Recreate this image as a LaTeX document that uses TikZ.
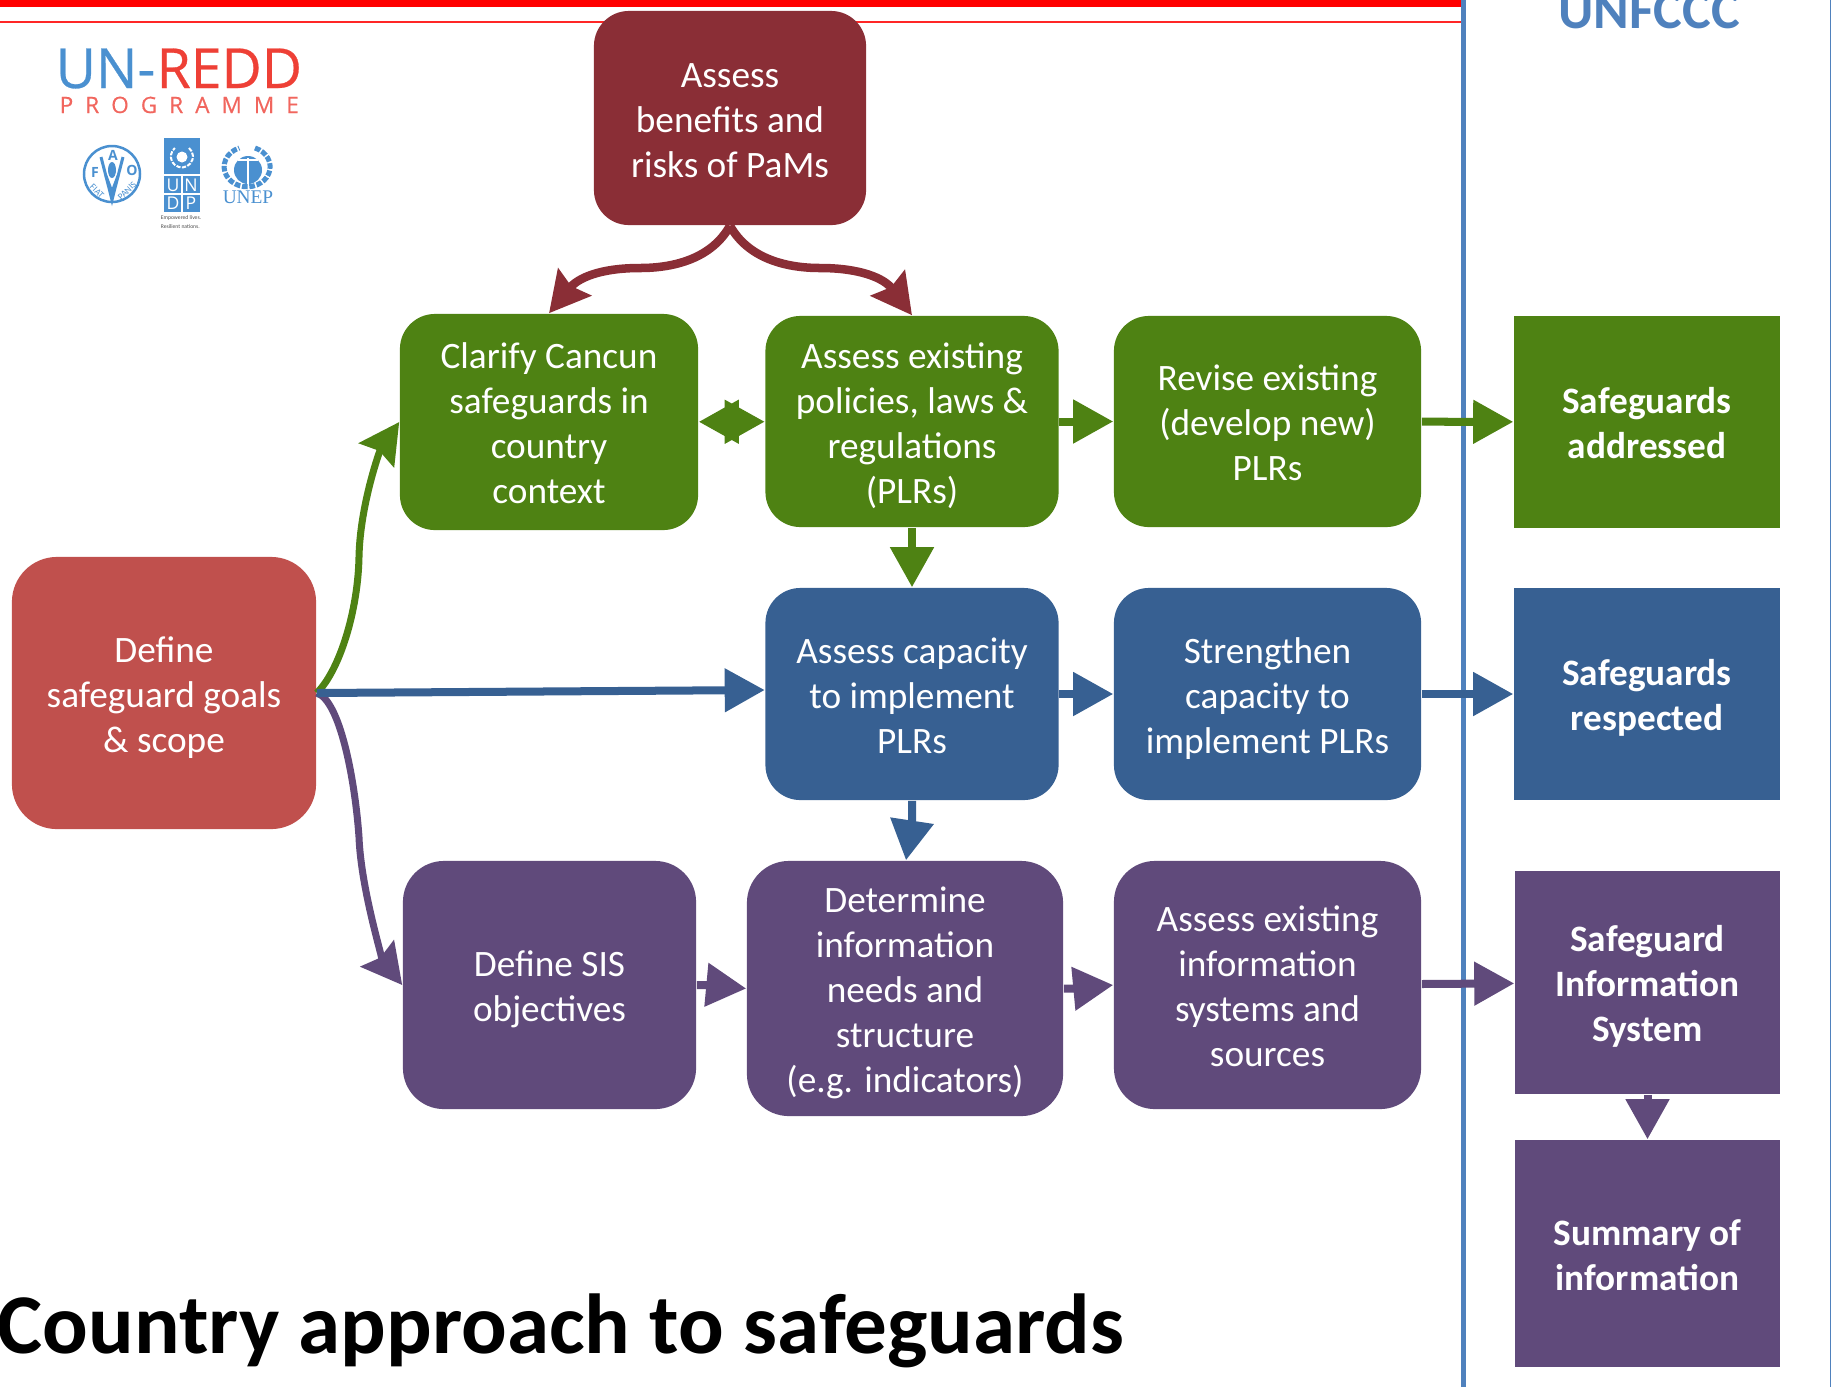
\documentclass[tikz,border=0pt]{standalone}
\usepackage{fontspec}
\setmainfont{Carlito}
\newfontfamily\logofont{Open Sans}
\newfontfamily\reddfont[FakeBold=0.5]{Open Sans}
\newfontfamily\unepfont{Liberation Serif}
\usetikzlibrary{arrows.meta}
\definecolor{maroonbox}{HTML}{8A2E36}
\definecolor{greenbox}{HTML}{4E8213}
\definecolor{bluebox}{HTML}{376092}
\definecolor{purplebox}{HTML}{604A7B}
\definecolor{redbox}{HTML}{C0504D}
\definecolor{unblue}{HTML}{4F81BD}
\definecolor{logoblue}{HTML}{4A90D0}
\definecolor{logored}{HTML}{EE4036}
\newcommand{\topline}{\rule{0pt}{12pt}}
\tikzset{
  stepbox/.style={rectangle, rounded corners=.35cm, inner sep=0pt, align=center, text=white, font=\fontsize{10.6}{12.8}\selectfont, fill=#1, execute at end node={\rule[-4pt]{0pt}{4pt}}},
  endbox/.style={rectangle, inner sep=0pt, align=center, text=white, font=\fontsize{10.6}{12.8}\selectfont\bfseries, fill=#1, execute at end node={\rule[-4pt]{0pt}{4pt}}},
  flow/.style={line width=.08cm, color=#1, -{Triangle[length=.4cm,width=.42cm]}},
  bend/.style={line width=.07cm, color=#1, -{Stealth[length=.4cm,width=.42cm,inset=.05cm]}},
  fiat/.style={text=logoblue, font=\fontsize{2.6}{2.8}\selectfont, inner sep=0pt},
  faoletter/.style={text=logoblue, font=\logofont\bfseries\fontsize{4}{4}\selectfont, inner sep=0pt},
  undp/.style={text=white, font=\logofont\fontsize{5}{6}\selectfont, inner sep=0pt}
}
\begin{document}
\begin{tikzpicture}[x=.01cm,y=-.01cm]
\useasboundingbox (0,0) rectangle (1831,1387);
\clip (0,0) rectangle (1831,1387);
% frame
\fill [red] (0,0) rectangle (1461,7);
\fill [red!85!white] (0,21) rectangle (1461,23);
\fill [unblue] (1461,0) rectangle (1466,1387);
\fill [unblue] (1829.5,0) rectangle (1831,1387);
\node (unfccc) [anchor=base, text=unblue, font=\fontsize{15.4}{17}\selectfont\bfseries, inner sep=0pt] at (1649,28) {UNFCCC};
\node (title) [anchor=base west, font=\fontsize{24.2}{26}\selectfont\bfseries, inner sep=0pt] at (-3,1353) {Country approach to safeguards};
% logo
\node (un) [anchor=base east, text=logoblue, font=\reddfont\fontsize{15.7}{16}\selectfont, inner sep=0pt] at (156,88) {UN-};
\node (redd) [anchor=base west, text=logored, font=\reddfont\fontsize{15.7}{16}\selectfont, inner sep=0pt] at (156,88) {REDD};
\node (prog) [anchor=base west, text=logored!80!white, font=\reddfont\fontsize{6.4}{6}\selectfont, inner sep=0pt] at (59,113) {\makebox[2.39cm][s]{P\hfill R\hfill O\hfill G\hfill R\hfill A\hfill M\hfill M\hfill E}};
\draw [logoblue, line width=.025cm] (112,174) circle (28);
\fill [logoblue] (112,170) ellipse (4 and 8);
\draw [logoblue, line width=.03cm] (101,157) -- (109,188) -- (112,200) -- (115,188) -- (123,157);
\draw [logoblue, line width=.03cm] (106,176) -- (112,192) -- (118,176);
\node (f) [faoletter] at (95,172) {F};
\node (a) [faoletter] at (113,155) {A};
\node (o) [faoletter] at (132,170) {O};
\node (fiat) [fiat, rotate=-45] at (97,191) {FIAT};
\node (panis) [fiat, rotate=45] at (127,191) {PANIS};
\fill [logoblue] (164,138) rectangle (200,212);
\draw [white, line width=.02cm, dash pattern=on 1.2pt off .4pt] (189,148) arc (-50:230:11);
\fill [white] (182,157) circle (5.5);
\draw [white, line width=.012cm] (164,175) -- (200,175) (182,175) -- (182,212) (164,194) -- (200,194);
\node (u) [undp] at (173,185) {U};
\node (n) [undp] at (191,185) {N};
\node (d) [undp] at (173,203) {D};
\node (p) [undp] at (191,203) {P};
\node (lives) [text=black!70, font=\fontsize{1.6}{2.8}\selectfont, align=left, inner sep=0pt] at (181,222) {Empowered lives.\\Resilient nations.};
\draw [logoblue, line width=.05cm, dash pattern=on 1.6pt off .5pt] (255,148) arc (-70:250:23 and 20);
\fill [logoblue] (248,170) circle (14);
\draw [white, line width=.02cm] (238,160) -- (258,160) (248,158) -- (248,184);
\node (unep) [text=logoblue, font=\unepfont\fontsize{5.5}{7}\selectfont, inner sep=0pt] at (248,197) {UNEP};
% boxes
\node (benefits) [stepbox=maroonbox, minimum width=2.72cm, minimum height=2.14cm] at (730,118) {\topline Assess\\benefits and\\risks of PaMs};
\node (clarify) [stepbox=greenbox, minimum width=2.98cm, minimum height=2.16cm] at (549,422) {\topline Clarify Cancun\\safeguards in\\country\\context};
\node (existing) [stepbox=greenbox, minimum width=2.93cm, minimum height=2.11cm] at (912,421.5) {\topline Assess existing\\policies, laws \&\\regulations\\(PLRs)};
\node (revise) [stepbox=greenbox, minimum width=3.07cm, minimum height=2.11cm] at (1267.5,421.5) {\topline Revise existing\\(develop new)\\PLRs};
\node (addressed) [endbox=greenbox, minimum width=2.66cm, minimum height=2.12cm] at (1647,422) {\topline Safeguards\\addressed};
\node (define) [stepbox=redbox, rounded corners=.45cm, minimum width=3.04cm, minimum height=2.72cm] at (164,693) {\topline Define\\safeguard goals\\\& scope};
\node (capacity) [stepbox=bluebox, minimum width=2.93cm, minimum height=2.12cm] at (912,694) {\topline Assess capacity\\to implement\\PLRs};
\node (strengthen) [stepbox=bluebox, minimum width=3.07cm, minimum height=2.12cm] at (1267.5,694) {\topline Strengthen\\capacity to\\implement PLRs};
\node (respected) [endbox=bluebox, minimum width=2.66cm, minimum height=2.12cm] at (1647,694) {\topline Safeguards\\respected};
\node (objectives) [stepbox=purplebox, rounded corners=.41cm, minimum width=2.93cm, minimum height=2.48cm] at (549.5,985) {\topline Define SIS\\objectives};
\node (needs) [stepbox=purplebox, rounded corners=.42cm, minimum width=3.16cm, minimum height=2.55cm] at (905,988.5) {\topline Determine\\information\\needs and\\structure\\(e.g. indicators)};
\node (systems) [stepbox=purplebox, rounded corners=.41cm, minimum width=3.07cm, minimum height=2.48cm] at (1267.5,985) {\topline Assess existing\\information\\systems and\\sources};
\node (sis) [endbox=purplebox, minimum width=2.65cm, minimum height=2.23cm] at (1647.5,982.5) {\topline Safeguard\\Information\\System};
\node (summary) [endbox=purplebox, minimum width=2.65cm, minimum height=2.27cm] at (1647.5,1253.5) {\topline Summary of\\information};
% connectors
\draw [bend=maroonbox, line width=.085cm] (benefits.south) .. controls (712,258) and (675,268) .. (640,268) .. controls (600,268) and (578,278) .. (clarify.north);
\draw [bend=maroonbox, line width=.085cm] (benefits.south) .. controls (748,258) and (785,268) .. (820,268) .. controls (860,268) and (884,278) .. (existing.north);
\draw [bend=greenbox] (define.east) .. controls (340,670) and (358,610) .. (359,557) .. controls (360,505) and (380,450) .. (clarify.west);
\draw [bend=purplebox] (define.east) .. controls (340,700) and (355,780) .. (359,837) .. controls (361,890) and (384,962) .. (objectives.west);
\draw [flow=bluebox] (define.east) -- ([yshift=.04cm]capacity.west);
\draw [flow=greenbox, {Triangle[length=.4cm,width=.42cm]}-{Triangle[length=.4cm,width=.42cm]}] (clarify) edge (existing);
\draw [flow=greenbox] (existing) edge (revise);
\draw [flow=greenbox] (revise) edge (addressed);
\draw [flow=greenbox] (existing) edge (capacity);
\draw [flow=bluebox] (capacity) edge (strengthen);
\draw [flow=bluebox] (strengthen) edge (respected);
\draw [flow=bluebox] (capacity.south) -- ++(0,20) -- ([xshift=.01cm]needs.north);
\draw [flow=purplebox] (objectives.east) -- ++(12,0) -- (needs.west);
\draw [flow=purplebox] (needs.east) -- ++(12,0) -- (systems.west);
\draw [flow=purplebox] (systems) edge (sis);
\draw [flow=purplebox] (sis) edge (summary);
\end{tikzpicture}
\end{document}
